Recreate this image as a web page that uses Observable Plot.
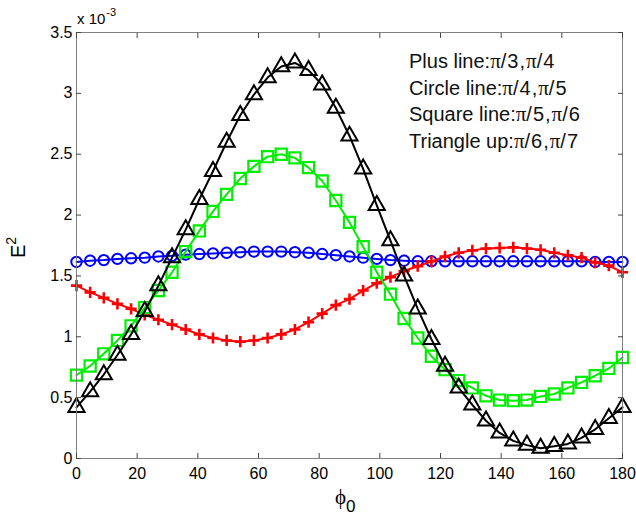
<!DOCTYPE html>
<html>
<head>
<meta charset="utf-8">
<script src="https://cdn.jsdelivr.net/npm/d3@7"></script>
<script src="https://cdn.jsdelivr.net/npm/@observablehq/plot@0.6"></script>
<style>
  html, body { margin: 0; padding: 0; background: #fff; }
  #chart { width: 636px; height: 521px; }
</style>
</head>
<body>
<div id="chart"></div>
<script>
// phi_0 sample positions (degrees)
const phi = [0, 4.5, 9, 13.5, 18, 22.5, 27, 31.5, 36, 40.5, 45, 49.5, 54, 58.5, 63, 67.5, 72, 76.5, 81, 85.5,
  90, 94.5, 99, 103.5, 108, 112.5, 117, 121.5, 126, 130.5, 135, 139.5, 144, 148.5, 153, 157.5, 162, 166.5, 171, 175.5, 180];

// E^2 values, in units of 1e-3
const plusLine = [1.42, 1.365, 1.32, 1.27, 1.23, 1.18, 1.14, 1.10, 1.06, 1.02, 0.99, 0.97, 0.96, 0.97, 0.99, 1.02, 1.06, 1.12, 1.19, 1.26,
  1.31, 1.38, 1.44, 1.49, 1.54, 1.58, 1.62, 1.66, 1.69, 1.71, 1.725, 1.73, 1.735, 1.725, 1.715, 1.69, 1.67, 1.65, 1.61, 1.585, 1.53];
const circleLine = [1.615, 1.625, 1.63, 1.64, 1.645, 1.65, 1.66, 1.665, 1.675, 1.68, 1.685, 1.69, 1.695, 1.70, 1.70, 1.70, 1.695, 1.69, 1.68, 1.67,
  1.66, 1.65, 1.64, 1.63, 1.625, 1.62, 1.62, 1.62, 1.62, 1.62, 1.62, 1.62, 1.62, 1.62, 1.62, 1.62, 1.62, 1.62, 1.615, 1.615, 1.615];
const squareLine = [0.685, 0.76, 0.86, 0.97, 1.09, 1.24, 1.38, 1.53, 1.70, 1.87, 2.03, 2.17, 2.30, 2.40, 2.48, 2.50, 2.47, 2.39, 2.28, 2.12,
  1.94, 1.74, 1.53, 1.35, 1.15, 0.99, 0.84, 0.73, 0.64, 0.58, 0.515, 0.48, 0.475, 0.48, 0.51, 0.53, 0.58, 0.625, 0.68, 0.74, 0.83];
const triangleLine = [0.42, 0.55, 0.69, 0.85, 1.02, 1.21, 1.42, 1.65, 1.88, 2.13, 2.36, 2.60, 2.82, 2.99, 3.13, 3.22, 3.25, 3.19, 3.07, 2.88,
  2.65, 2.38, 2.08, 1.79, 1.50, 1.23, 0.98, 0.76, 0.58, 0.44, 0.31, 0.21, 0.145, 0.11, 0.085, 0.10, 0.12, 0.17, 0.24, 0.33, 0.42];

const xTicks = [0, 20, 40, 60, 80, 100, 120, 140, 160, 180];
const yTicks = [0, 0.5, 1, 1.5, 2, 2.5, 3, 3.5];
const yTickLabels = ["0", "0.5", "1", "1.5", "2", "2.5", "3", "3.5"];
const legendLines = [
  ["Plus line:", "3", "4"],
  ["Circle line:", "4", "5"],
  ["Square line:", "5", "6"],
  ["Triangle up:", "6", "7"]
];

const series = [
  {name: "circle", values: circleLine, color: "#0000ff", symbol: "circle", r: 5.2, sw: 2},
  {name: "plus", values: plusLine, color: "#ff0000", symbol: "plus", r: 3.7, sw: 2.6},
  {name: "square", values: squareLine, color: "#00ee00", symbol: "square", r: 6.3, sw: 2.2},
  {name: "triangle", values: triangleLine, color: "#000000", symbol: "triangle", r: 6, sw: 2}
];

const marks = [];
for (const s of series) {
  const rows = phi.map((p, i) => ({phi: p, e2: s.values[i]}));
  marks.push(Plot.line(rows, {x: "phi", y: "e2", stroke: s.color, strokeWidth: 2, curve: "linear"}));
  marks.push(Plot.dot(rows, {x: "phi", y: "e2", stroke: s.color, strokeWidth: s.sw, symbol: s.symbol, r: s.r, fill: "none"}));
}

const font = "Liberation Sans, Arial, Helvetica, sans-serif";
const serif = "Liberation Serif, Times New Roman, serif";
const svg = Plot.plot({
  width: 636,
  height: 521,
  marginLeft: 76,
  marginRight: 14,
  marginTop: 32,
  marginBottom: 63,
  style: {fontFamily: font, background: "#fff", color: "#000"},
  x: {domain: [0, 180], label: null},
  y: {domain: [0, 3.5], label: null},
  marks: [
    ...marks,
    Plot.frame({stroke: "#808080", strokeWidth: 1}),
    Plot.axisX({ticks: xTicks, tickSize: -5, text: null, stroke: "#444", label: null}),
    Plot.axisX({ticks: xTicks, anchor: "top", tickSize: -5, text: null, stroke: "#444", label: null}),
    Plot.axisY({ticks: yTicks, tickSize: -5, text: null, stroke: "#444", label: null}),
    Plot.axisY({ticks: yTicks, anchor: "right", tickSize: -5, text: null, stroke: "#444", label: null}),
    Plot.axisX({ticks: xTicks, tickSize: 0, tickPadding: 9, fontSize: 16, fill: "#000", label: null}),
    Plot.axisY({ticks: yTicks, tickSize: 0, tickPadding: 4, fontSize: 16, fill: "#000", label: null,
      tickFormat: (d) => yTickLabels[yTicks.indexOf(d)]})
  ]
});

const root = d3.select(svg);
// exponent label
const ex = root.append("text").attr("x", 77).attr("y", 24).attr("text-anchor", "start")
  .attr("font-family", font).attr("font-size", 15).attr("fill", "#000");
ex.append("tspan").text("x 10");
ex.append("tspan").attr("font-size", 11).attr("dy", -8).attr("dx", 1).text("-3");

// y label E^2
const yl = root.append("text").attr("transform", "translate(25,258) rotate(-90)").attr("text-anchor", "start")
  .attr("font-family", font).attr("font-size", 20).attr("fill", "#000");
yl.append("tspan").text("E");
yl.append("tspan").attr("font-size", 14).attr("dy", -9).text("2");

// x label phi_0
const xl = root.append("text").attr("x", 335).attr("y", 504).attr("text-anchor", "start").attr("fill", "#000");
xl.append("tspan").attr("font-family", serif).attr("font-size", 21).text("\u03d5");
xl.append("tspan").attr("font-family", font).attr("font-size", 17).attr("dy", 8).text("0");

// annotation text block
legendLines.forEach((parts, i) => {
  const t = root.append("text").attr("x", 409).attr("y", 68 + i * 26.7).attr("text-anchor", "start")
    .attr("fill", "#111").attr("font-size", 20).attr("font-family", font);
  t.append("tspan").text(parts[0]);
  t.append("tspan").attr("font-family", serif).attr("font-size", 21).text("\u03c0");
  t.append("tspan").attr("letter-spacing", 1).text("/" + parts[1] + ",");
  t.append("tspan").attr("font-family", serif).attr("font-size", 21).text("\u03c0");
  t.append("tspan").attr("letter-spacing", 1).text("/" + parts[2]);
});

document.getElementById("chart").appendChild(svg);
</script>
</body>
</html>
